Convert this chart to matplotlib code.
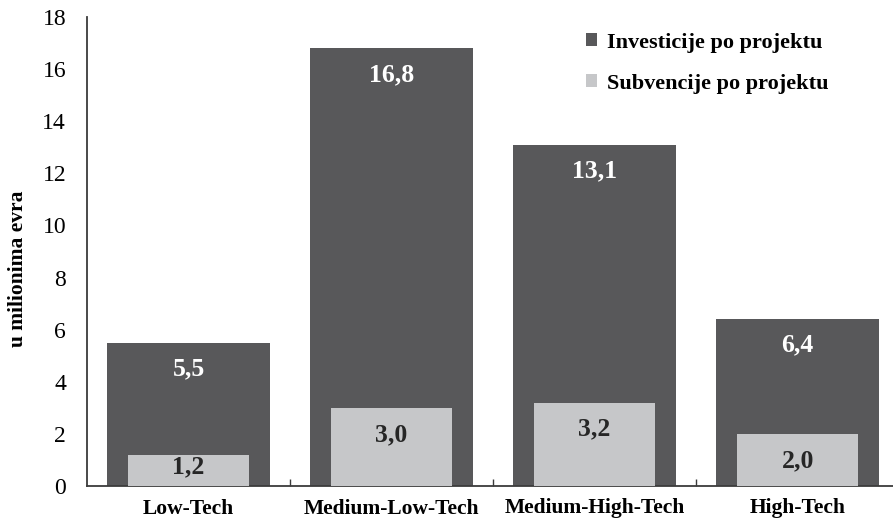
import matplotlib
matplotlib.use("Agg")
import matplotlib.pyplot as plt
import numpy as np

categories = ["Low-Tech", "Medium-Low-Tech", "Medium-High-Tech", "High-Tech"]
investicije = [5.5, 16.8, 13.1, 6.4]
subvencije = [1.2, 3.0, 3.2, 2.0]
inv_labels = ["5,5", "16,8", "13,1", "6,4"]
sub_labels = ["1,2", "3,0", "3,2", "2,0"]
yticks = [0, 2, 4, 6, 8, 10, 12, 14, 16, 18]

dark = "#58585a"
light = "#c6c7c9"
axis_col = "#3c3c3c"

plt.rcParams["font.family"] = ["Liberation Serif", "DejaVu Serif"]

fig = plt.figure(figsize=(8.93, 5.18), dpi=100)
ax = fig.add_axes([87 / 893, (518 - 486) / 518, (893 - 87) / 893, (486 - 17) / 518])

x = np.arange(len(categories))
ax.bar(x, investicije, width=0.8, color=dark, label="Investicije po projektu", zorder=2)
ax.bar(x, subvencije, width=0.6, color=light, label="Subvencije po projektu", zorder=3)

for xi, v, t in zip(x, investicije, inv_labels):
    ax.text(xi, v - 1.0, t, ha="center", va="center", color="white",
            fontsize=18.5, fontweight="bold", zorder=4)
for xi, v, t in zip(x, subvencije, sub_labels):
    ax.text(xi, max(v - 1.02, 0.75), t, ha="center", va="center", color="#262626",
            fontsize=18.5, fontweight="bold", zorder=4)

ax.set_xlim(-0.5, 3.47)
ax.set_ylim(0, 18)
ax.set_yticks(yticks)
ax.set_yticklabels([str(v) for v in yticks], fontsize=17)
ax.tick_params(axis="y", length=0, pad=15)

ax.set_xticks(x)
ax.set_xticklabels(categories, fontsize=15.5, fontweight="bold")
ax.tick_params(axis="x", length=0, pad=9)
ax.set_xticks([0.5, 1.5, 2.5], minor=True)
ax.tick_params(axis="x", which="minor", direction="in", length=5, width=1, color=axis_col)

for s in ["top", "right"]:
    ax.spines[s].set_visible(False)
for s in ["left", "bottom"]:
    ax.spines[s].set_color(axis_col)
    ax.spines[s].set_linewidth(1.3)

ax.set_ylabel("u milionima evra", fontsize=15.5, fontweight="bold")
ax.yaxis.set_label_coords(-0.073, 0.463)

ax.legend(loc="upper left", bbox_to_anchor=(0.6, 1.0), frameon=False,
          prop={"size": 16, "weight": "bold"}, handlelength=0.5, handleheight=0.5,
          handletextpad=0.45, labelspacing=0.95, borderpad=0.2)

fig.savefig("out.png", dpi=100)
